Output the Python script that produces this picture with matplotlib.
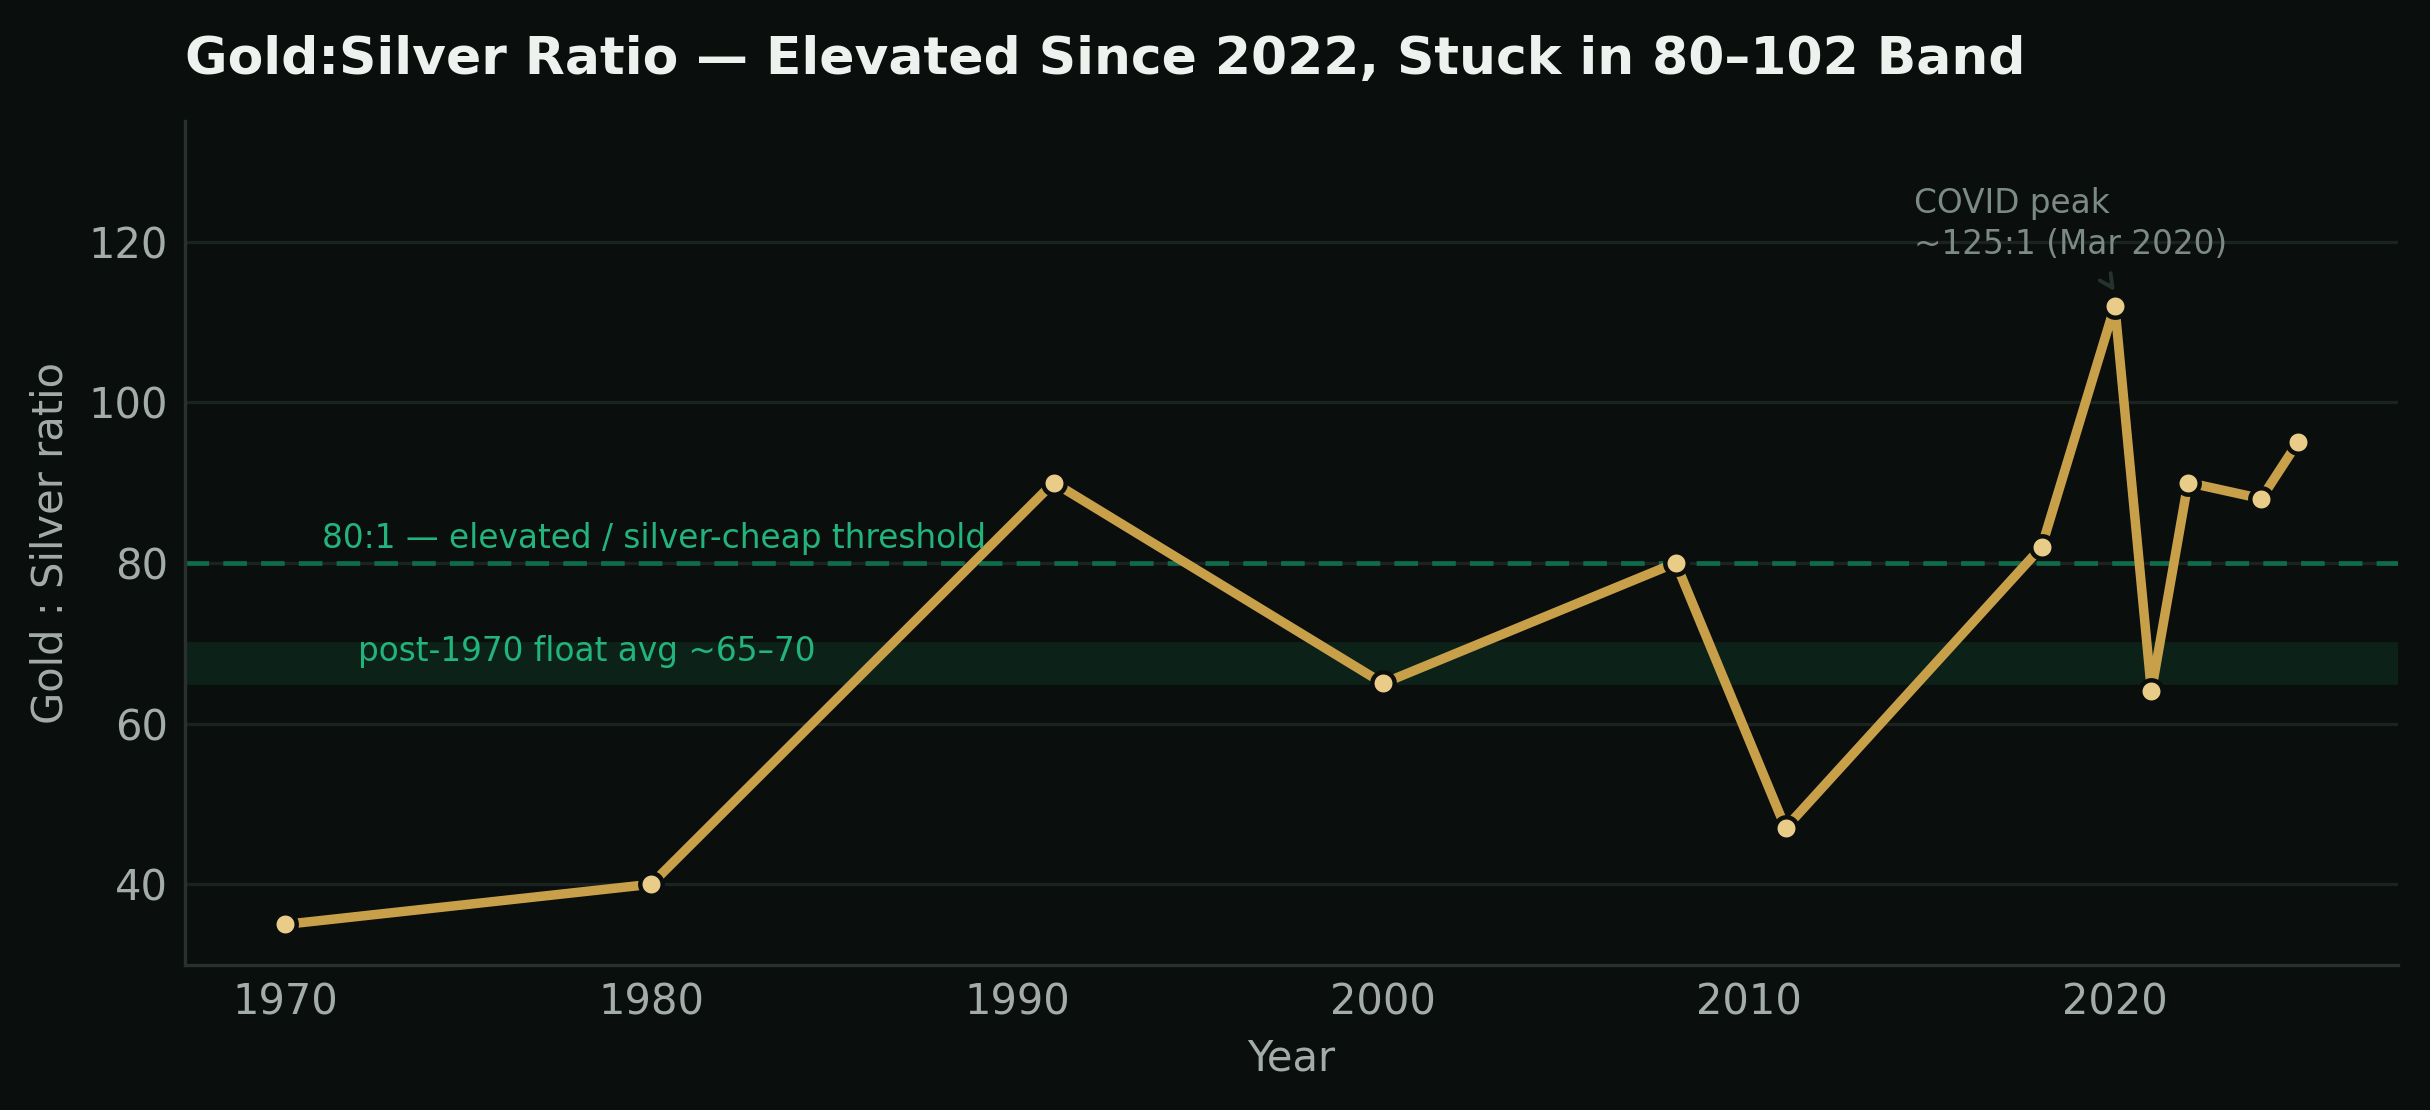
import numpy as np
import matplotlib.pyplot as plt

# ---------------------------------------------------------------
# Data
# ---------------------------------------------------------------
years = [1970, 1980, 1991, 2000, 2008, 2011, 2018, 2020, 2021, 2022, 2024, 2025]
ratio = [35, 40, 90, 65, 80, 47, 82, 112, 64, 90, 88, 95]

threshold = 80
avg_band = (65, 70)
y_ticks = [40, 60, 80, 100, 120]

# ---------------------------------------------------------------
# Colours
# ---------------------------------------------------------------
BG = "#0a0e0d"
GRID = "#1b2320"
GOLD = "#c9a04a"
MARKER = "#e9cc88"
GREEN = "#23b37c"
DASH = "#0f6b49"
BAND = "#0c2219"
TICK = "#a3aca8"
NOTE = "#7c8a85"

plt.rcParams["font.family"] = ["DejaVu Sans"]

fig, ax = plt.subplots(figsize=(12.15, 5.55), dpi=200)
fig.patch.set_facecolor(BG)
ax.set_facecolor(BG)

ax.axhspan(avg_band[0], avg_band[1], color=BAND, zorder=1)
ax.axhline(threshold, color=DASH, lw=1.7, ls=(0, (5, 3)), zorder=2)

ax.plot(years, ratio, color=GOLD, lw=3.4, zorder=3)
ax.scatter(years, ratio, s=65, color=MARKER, edgecolor=BG, linewidth=1.6, zorder=4)

ax.text(1971, 81, "80:1 \u2014 elevated / silver-cheap threshold",
        color=GREEN, fontsize=11.8, va="bottom", ha="left")
ax.text(1972, 69, "post-1970 float avg ~65\u201370",
        color=GREEN, fontsize=11.8, va="center", ha="left")

ax.annotate("COVID peak\n~125:1 (Mar 2020)", xy=(2020, 113.8), xytext=(2014.5, 117.6),
            color=NOTE, fontsize=11.8, ha="left", va="bottom", linespacing=1.3,
            arrowprops=dict(arrowstyle="->", color="#24332d", lw=1.4,
                            shrinkA=8, shrinkB=0))

ax.set_xlim(1967.25, 2027.75)
ax.set_ylim(30, 135)
ax.set_yticks(y_ticks)
ax.set_xticks([1970, 1980, 1990, 2000, 2010, 2020])

ax.grid(axis="y", color=GRID, lw=1.2, zorder=0)
ax.set_axisbelow(True)
for s in ["top", "right"]:
    ax.spines[s].set_visible(False)
for s in ["left", "bottom"]:
    ax.spines[s].set_color("#28312d")
    ax.spines[s].set_linewidth(1.2)

ax.tick_params(colors=TICK, labelsize=15, length=0, pad=6)
ax.set_xlabel("Year", color=TICK, fontsize=15, labelpad=5)
ax.set_ylabel("Gold : Silver ratio", color=TICK, fontsize=15, labelpad=6)

ax.set_title("Gold:Silver Ratio \u2014 Elevated Since 2022, Stuck in 80\u2013102 Band",
             loc="left", color="#eef2ee", fontsize=18.7, fontweight="bold", pad=17)

fig.subplots_adjust(left=0.076, right=0.987, top=0.891, bottom=0.131)
fig.savefig("out.png", dpi=200, facecolor=BG)
